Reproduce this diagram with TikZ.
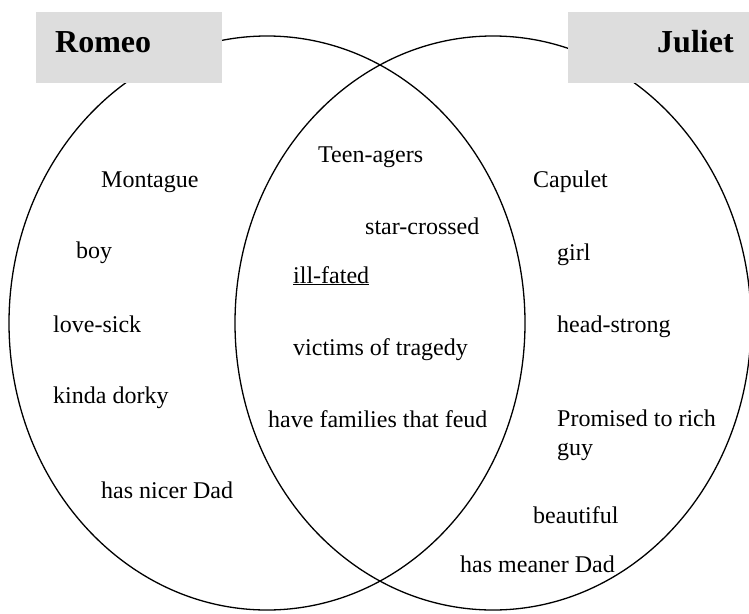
\documentclass[tikz,border=0pt]{standalone}
\usepackage{fontspec}
\setmainfont{Liberation Serif}
\begin{document}
\begin{tikzpicture}[x=1pt,y=-1pt,
  ring/.style={draw=black,line width=1.3pt},
  titlebox/.style={fill=black!13.5,draw=none},
  titletext/.style={anchor=base west,inner sep=0pt,font=\fontsize{32}{38}\selectfont\bfseries},
  item/.style={anchor=base west,inner sep=0pt,font=\fontsize{24}{29}\selectfont,align=left}]
\useasboundingbox (0,0) rectangle (749,613);
% circles
\draw[ring] (267,323) ellipse [x radius=258, y radius=287];
\draw[ring] (493,323) ellipse [x radius=258, y radius=287];
% title boxes
\fill[titlebox] (36,12) rectangle (222,83);
\fill[titlebox] (568,12) rectangle (749,83);
\node[titletext] (romeo) at (55,52) {Romeo};
\node[titletext] (juliet) at (657,52) {Juliet};
% Romeo only
\node[item] (montague) at (101,187) {Montague};
\node[item] (boy) at (76,258) {boy};
\node[item] (lovesick) at (53,332) {love-sick};
\node[item] (dorky) at (53,403) {kinda dorky};
\node[item] (nicer) at (101,498) {has nicer Dad};
% both
\node[item] (teen) at (318,162) {Teen-agers};
\node[item] (star) at (365,234) {star-crossed};
\node[item] (ill) at (293,283) {\underline{ill-fated}};
\node[item] (victims) at (293,355) {victims of tragedy};
\node[item] (feud) at (268,427) {have families that feud};
% Juliet only
\node[item] (capulet) at (533,187) {Capulet};
\node[item] (girl) at (557,260) {girl};
\node[item] (head) at (557,332) {head-strong};
\node[item] (promised) at (557,455) {Promised to rich\\guy};
\node[item] (beautiful) at (533,523) {beautiful};
\node[item] (meaner) at (460,572) {has meaner Dad};
\end{tikzpicture}
\end{document}
